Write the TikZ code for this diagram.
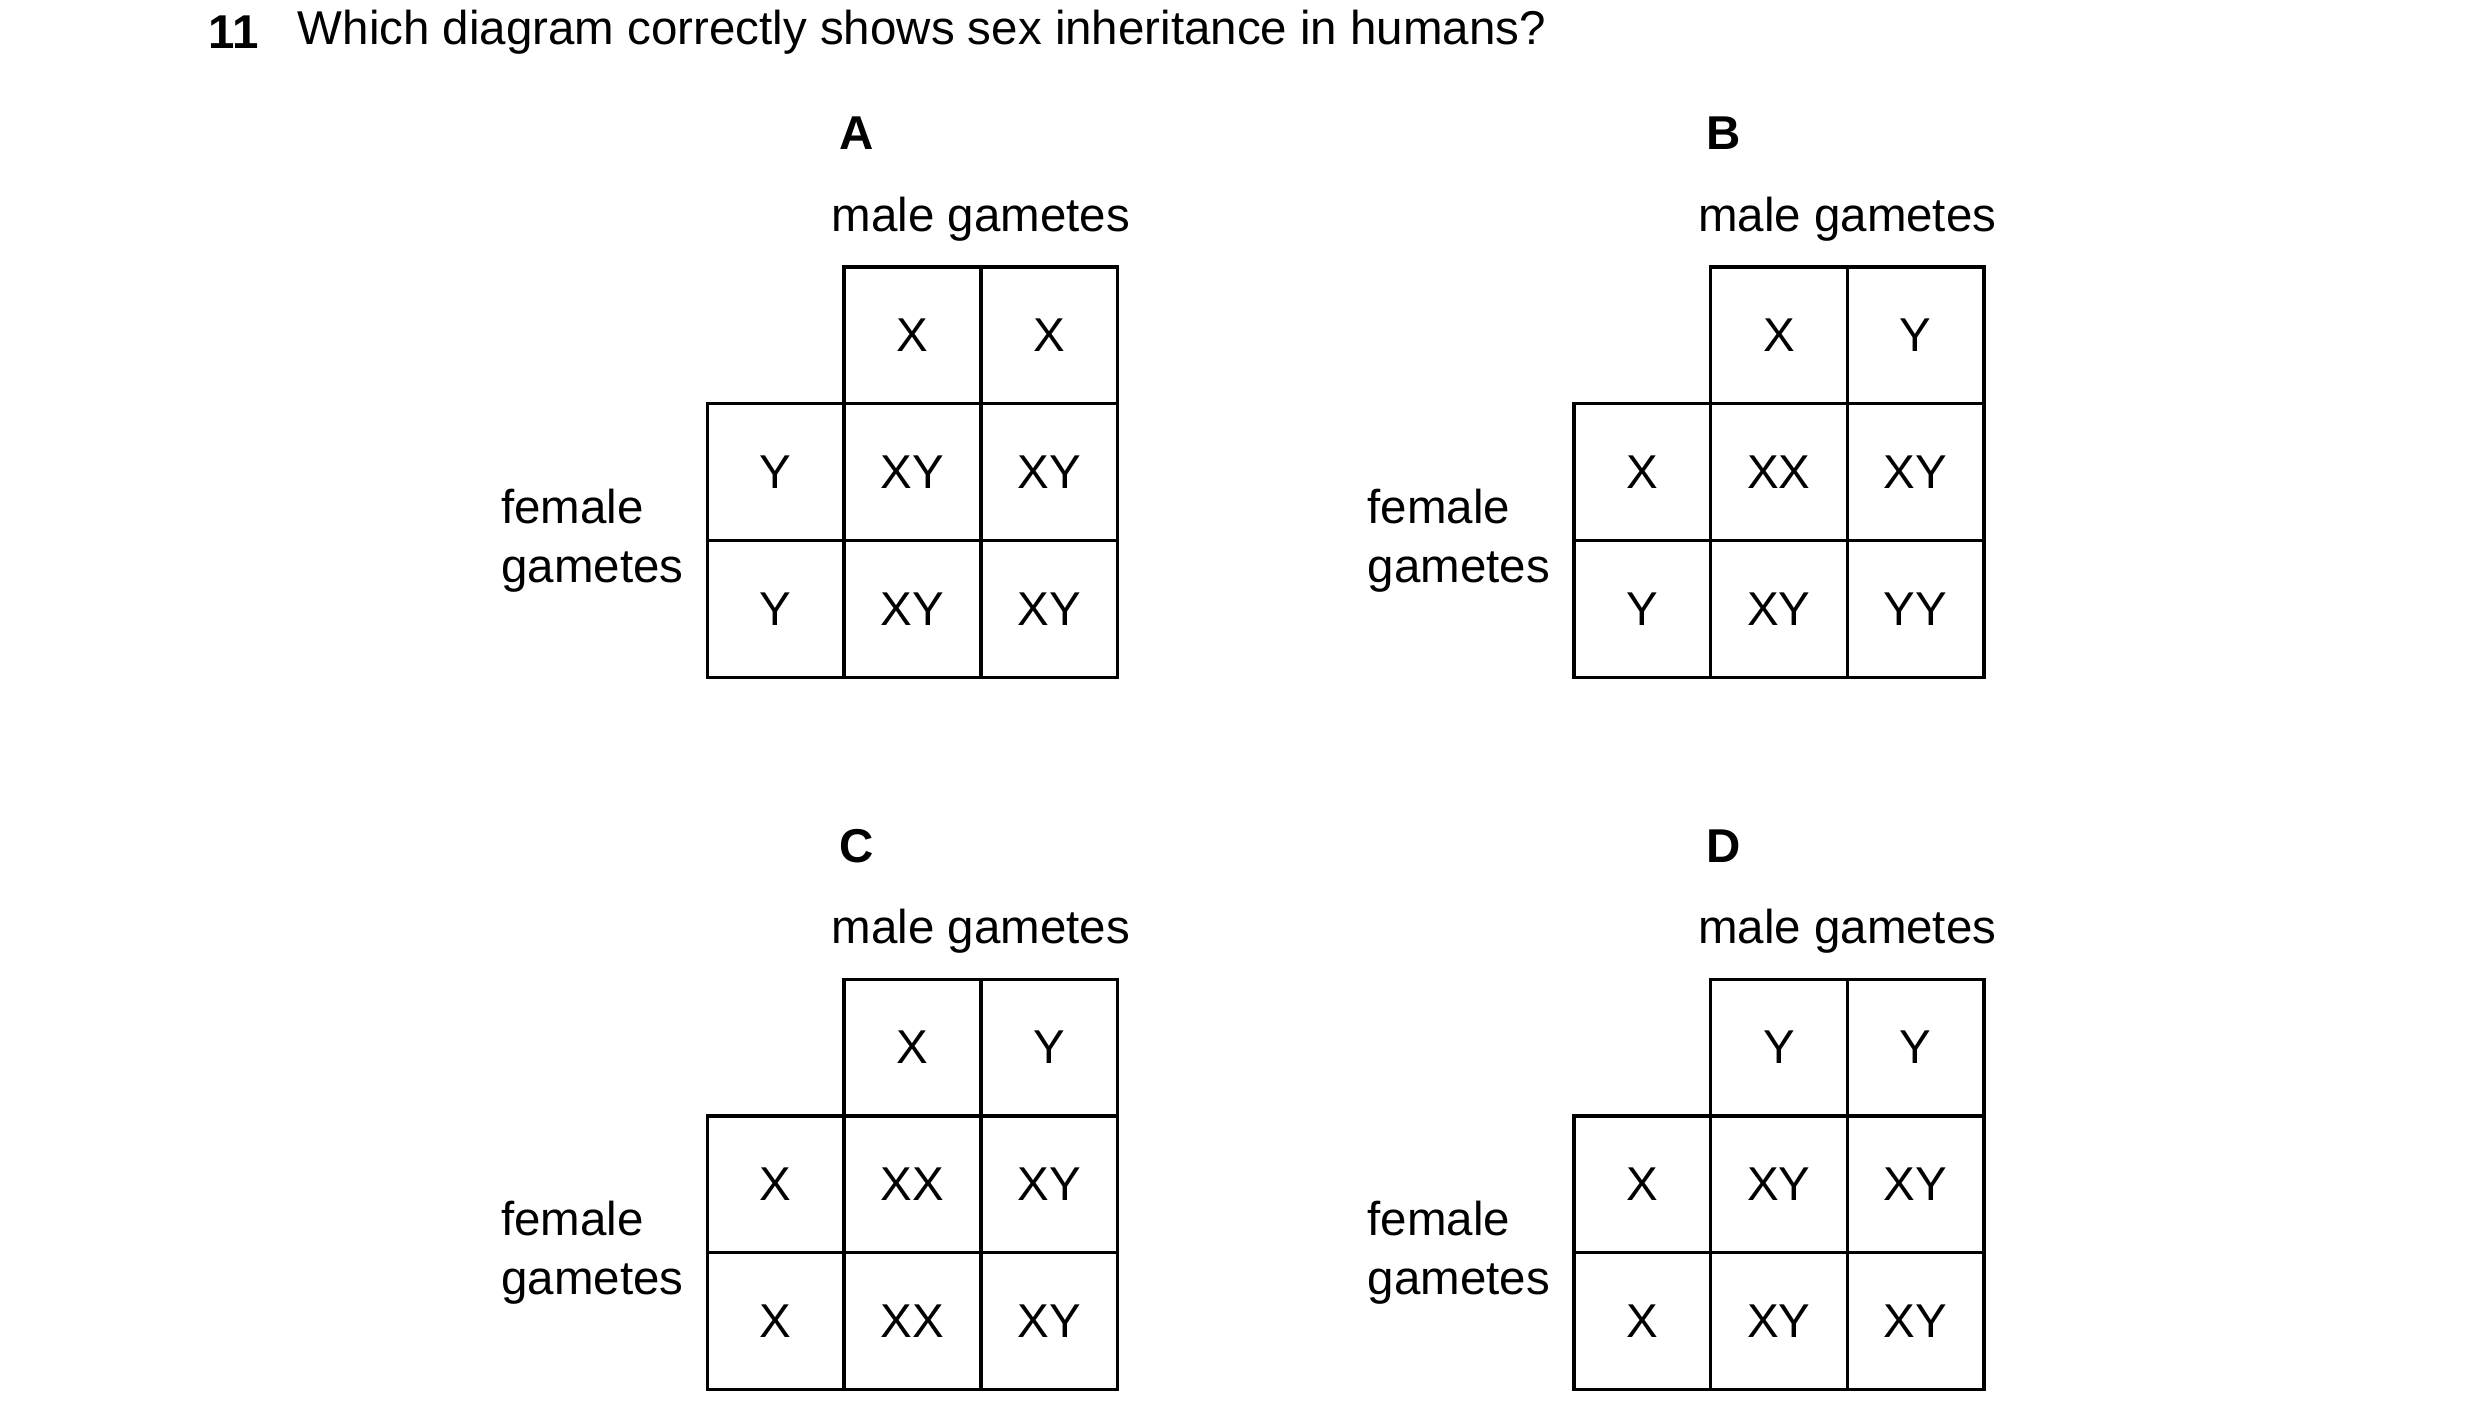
\documentclass[tikz,border=0pt]{standalone}
\usepackage{fontspec}
\setmainfont{Liberation Sans}
\tikzset{
  cell/.style = {draw, line width=1.2pt, minimum size=1.72cm, inner sep=0pt, font=\fontsize{17}{20}\selectfont},
  lbl/.style = {font=\fontsize{17}{21}\selectfont, inner sep=0pt},
  head/.style = {font=\bfseries\fontsize{17}{20}\selectfont, inner sep=0pt}
}
% #1 letter, #2 #3 male, #4 #5 female, #6-#9 offspring
\newcommand\punnett[9]{
  \node [head, anchor=west] (#1h) at (528, 84) {#1};
  \node [lbl] (#1m) at (617, 138) {male gametes};
  \node [cell] (#1m1) at (574, 211) {#2};
  \node [cell] (#1m2) at (660, 211) {#3};
  \node [cell] (#1f1) at (488, 297) {#4};
  \node [cell] (#1f2) at (488, 383) {#5};
  \node [cell] (#1a) at (574, 297) {#6};
  \node [cell] (#1b) at (660, 297) {#7};
  \node [cell] (#1c) at (574, 383) {#8};
  \node [cell] (#1d) at (660, 383) {#9};
  \node [lbl, anchor=west, align=left] (#1f) at (315, 340) {female\\gametes};
}
\begin{document}
\begin{tikzpicture}[x=0.02cm, y=-0.02cm]
  \useasboundingbox (0, 0) rectangle (1560, 895);
  \node [head, anchor=west] (num) at (131, 20) {11};
  \node [lbl, anchor=west] (q) at (187, 20) {Which diagram correctly shows sex inheritance in humans?};
  \begin{scope}
    \punnett{A}{X}{X}{Y}{Y}{XY}{XY}{XY}{XY}
  \end{scope}
  \begin{scope}[shift={(545, 0)}]
    \punnett{B}{X}{Y}{X}{Y}{XX}{XY}{XY}{YY}
  \end{scope}
  \begin{scope}[shift={(0, 448)}]
    \punnett{C}{X}{Y}{X}{X}{XX}{XY}{XX}{XY}
  \end{scope}
  \begin{scope}[shift={(545, 448)}]
    \punnett{D}{Y}{Y}{X}{X}{XY}{XY}{XY}{XY}
  \end{scope}
\end{tikzpicture}
\end{document}
